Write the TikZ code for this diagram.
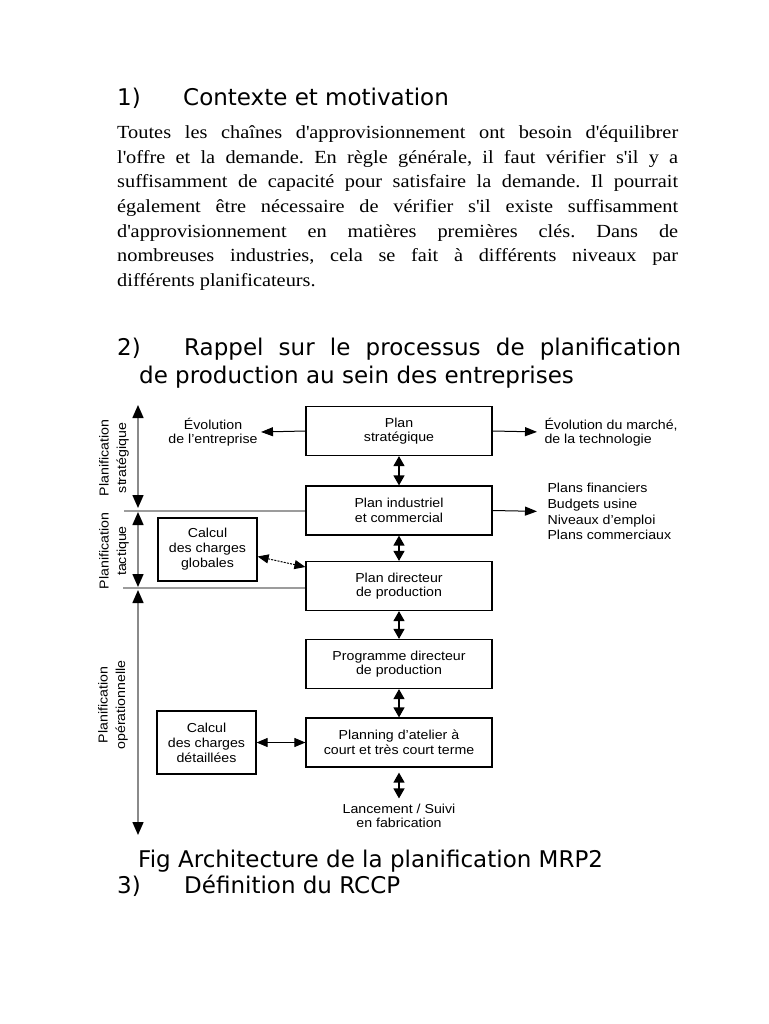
\documentclass[tikz,border=0pt]{standalone}
\usepackage{fontspec}
\setmainfont{Liberation Serif}
\newfontfamily\headfont{DejaVu Sans}
\newfontfamily\bodyfont[FakeStretch=1.1]{Liberation Serif}
\newfontfamily\diagfont[FakeStretch=1.09]{Liberation Sans}
\usetikzlibrary{arrows.meta,positioning}
\definecolor{axiscol}{HTML}{8A8A8A}
\definecolor{sepcol}{HTML}{9C9C9C}
\frenchspacing
\newcommand{\ap}{\textquotesingle}
\newcommand{\planbox}[3]{\node[draw,line width=1.2pt,minimum width=186pt,minimum height=49pt,align=center,font=\diagfont\fontsize{13}{14.5}\selectfont] at (#1) (#2) {#3};}
\newcommand{\chargebox}[3]{\node[draw,line width=1.2pt,minimum width=99pt,minimum height=63pt,align=center,font=\diagfont\fontsize{13}{15}\selectfont] at (#1) (#2) {#3};}
\newcommand{\bodyline}[3]{\node[anchor=base west,inner sep=0pt,font=\bodyfont\fontsize{18.5}{24}\selectfont] at (117,#1) (#2) {#3};}
\newcommand{\levellbl}[3]{\node[rotate=90,align=center,font=\diagfont\fontsize{13}{17.5}\selectfont] at (#1) (#2) {#3};}

\begin{document}
\begin{tikzpicture}[x=1pt,y=-1pt,
  headtxt/.style={anchor=base west,inner sep=0pt,font=\headfont\fontsize{23}{28}\selectfont},
  diagtxt/.style={font=\diagfont\fontsize{13}{14.5}\selectfont},
  boxlink/.style={{Triangle[length=10pt,width=11pt]}-{Triangle[length=10pt,width=11pt]},line width=1.3pt},
  outlink/.style={-{Triangle[length=12pt,width=9pt]},line width=1pt},
  chargelink/.style={{Triangle[length=11pt,width=9pt]}-{Triangle[length=11pt,width=9pt]},line width=1pt},
  levelaxis/.style={{Triangle[length=13pt,width=11pt,color=black]}-{Triangle[length=13pt,width=11pt,color=black]},draw=axiscol,line width=1.5pt},
  sepline/.style={draw=sepcol,line width=1.3pt}]
\fill[white] (0,0) rectangle (768,1024);
\useasboundingbox (0,0) rectangle (768,1024);

% texte
\node[headtxt] at (117,106) (h1num) {1)};
\node[headtxt] at (183,106) (h1) {Contexte et motivation};
\bodyline{139}{p1}{\makebox[561pt][s]{Toutes les chaînes d\ap approvisionnement ont besoin d\ap équilibrer}}
\bodyline{163.5}{p2}{\makebox[561pt][s]{l\ap offre et la demande. En règle générale, il faut vérifier s\ap il y a}}
\bodyline{188}{p3}{\makebox[561pt][s]{suffisamment de capacité pour satisfaire la demande. Il pourrait}}
\bodyline{212.5}{p4}{\makebox[561pt][s]{également être nécessaire de vérifier s\ap il existe suffisamment}}
\bodyline{237}{p5}{\makebox[561pt][s]{d\ap approvisionnement en matières premières clés. Dans de}}
\bodyline{261.5}{p6}{\makebox[561pt][s]{nombreuses industries, cela se fait à différents niveaux par}}
\bodyline{286}{p7}{différents planificateurs.}
\node[headtxt] at (117,355) (h2num) {2)};
\node[headtxt] at (184,355) (h2) {\makebox[497pt][s]{Rappel sur le processus de planification}};
\node[headtxt] at (139,383) (h2b) {de production au sein des entreprises};

% niveaux
\coordinate (axtop) at (138,405);
\coordinate (cut1) at (138,510);
\coordinate (cut2) at (138,588.5);
\coordinate (axbot) at (138,835);
\coordinate (sep1) at (124,511);
\coordinate (sep2) at (123,588);
\levellbl{114,458}{lstrat}{Planification\\stratégique}
\levellbl{114,551}{ltact}{Planification\\tactique}
\levellbl{113,705}{lope}{Planification\\opérationnelle}

% blocs
\planbox{399,431}{strat}{Plan\\stratégique}
\planbox{399,510.5}{indus}{Plan industriel\\et commercial}
\planbox{399,586}{pdp}{Plan directeur\\de production}
\planbox{399,664}{prog}{Programme directeur\\de production}
\planbox{399,742.5}{atelier}{Planning d’atelier à\\court et très court terme}
\node[diagtxt,align=center] at (399,816) (lance) {Lancement / Suivi\\en fabrication};
\chargebox{207.5,549.5}{cglob}{Calcul\\des charges\\globales}
\chargebox{206.5,742.5}{cdet}{Calcul\\des charges\\détaillées}
\node[diagtxt,align=center] at (213,432) (evolent) {Évolution\\de l’entreprise};
\node[diagtxt,align=left,anchor=west] at (541,432) (evolmar) {Évolution du marché,\\de la technologie};
\node[diagtxt,align=left,anchor=west,font=\diagfont\fontsize{13}{15.7}\selectfont] at (544,511.5) (sorties) {Plans financiers\\Budgets usine\\Niveaux d’emploi\\Plans commerciaux};

\draw[sepline] (sep1) -- (sep1 -| indus.west);
\draw[sepline] (sep2) -- (sep2 -| pdp.west);
\draw[levelaxis] (axtop) -- ([yshift=2pt]cut1);
\draw[levelaxis] ([yshift=-2pt]cut1) -- ([yshift=1.5pt]cut2);
\draw[levelaxis] ([yshift=-1.5pt]cut2) -- (axbot);

\draw[boxlink] (strat) -- (indus);
\draw[boxlink] (indus) -- (pdp);
\draw[boxlink] (pdp) -- (prog);
\draw[boxlink] (prog) -- (atelier);
\draw[boxlink,shorten <=5pt,shorten >=2pt] (atelier) -- (lance);
\draw[outlink] (strat.west) -- (evolent.east);
\draw[outlink,shorten >=4pt] (strat.east) -- (evolmar.west);
\draw[outlink,shorten >=7pt] (indus.east) -- (sorties.west);
\draw[chargelink,dash pattern=on 2pt off 1.2pt] ([yshift=-7pt]cglob.east) -- ([yshift=19pt]pdp.west);
\draw[chargelink] (cdet) -- (atelier);

\node[headtxt] at (138,867) (fig) {Fig Architecture de la planification MRP2};
\node[headtxt] at (117,893) (h3num) {3)};
\node[headtxt] at (184,893) (h3) {Définition du RCCP};
\end{tikzpicture}
\end{document}
